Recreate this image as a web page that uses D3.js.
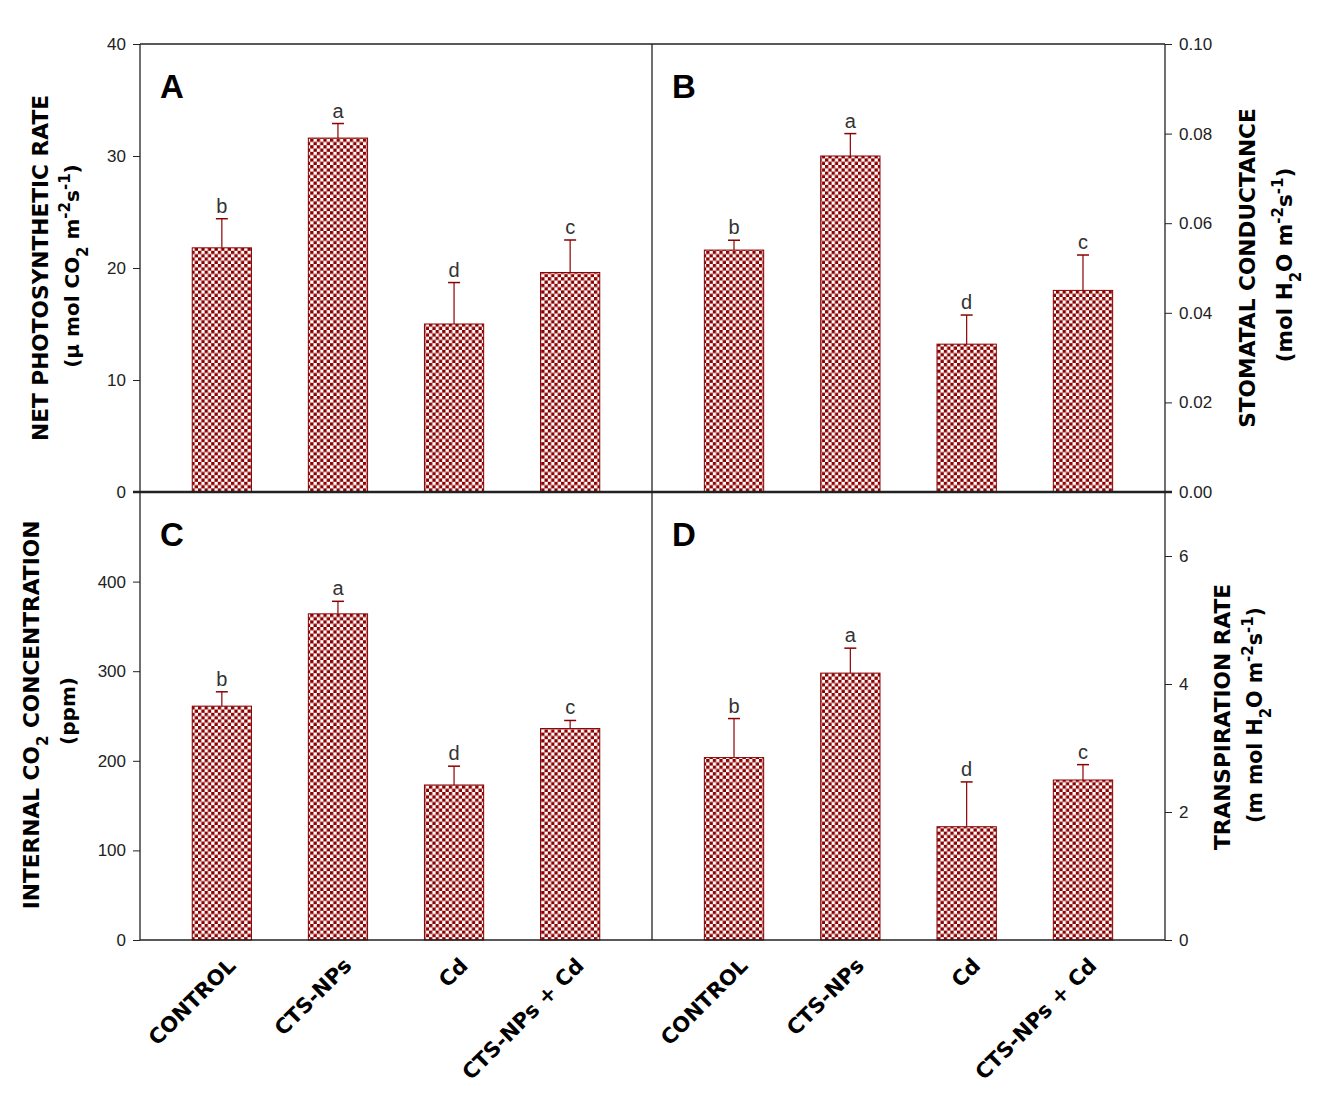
<!DOCTYPE html>
<html>
<head>
<meta charset="utf-8">
<script src="https://cdn.jsdelivr.net/npm/d3@7"></script>
<style>
  body { margin: 0; background: #fff; }
  text { font-family: "Liberation Sans", Arial, sans-serif; }
  .bold { font-family: "DejaVu Sans", sans-serif; font-weight: bold; }
</style>
</head>
<body>
<svg id="chart"></svg>
<script>
// treatments
var groups = ['CONTROL', 'CTS-NPs', 'Cd', 'CTS-NPs + Cd'];

// panel values (mean, error) and letters
var photoMean = [21.8, 31.6, 15.0, 19.6];
var photoErr  = [2.6, 1.3, 3.7, 2.9];
var photoSig  = ['b', 'a', 'd', 'c'];

var condMean = [0.054, 0.075, 0.033, 0.045];
var condErr  = [0.0022, 0.005, 0.0065, 0.0079];
var condSig  = ['b', 'a', 'd', 'c'];

var co2Mean = [261, 364, 173, 236];
var co2Err  = [16, 14, 21, 9];
var co2Sig  = ['b', 'a', 'd', 'c'];

var transMean = [2.85, 4.17, 1.77, 2.5];
var transErr  = [0.61, 0.39, 0.70, 0.24];
var transSig  = ['b', 'a', 'd', 'c'];

var photoTicks = [0, 10, 20, 30, 40];
var condTicks  = [0, 0.02, 0.04, 0.06, 0.08, 0.10];
var co2Ticks   = [0, 100, 200, 300, 400];
var transTicks = [0, 2, 4, 6];

var W = 1322, H = 1105;
var leftX = 140, midX = 652, rightX = 1165;
var topY = 44, midY = 492, bottomY = 940;
var red = '#8b0000';

var svg = d3.select('#chart').attr('width', W).attr('height', H);

// checker pattern
var cell = 3.3;
var pat = svg.append('defs').append('pattern')
    .attr('id', 'check')
    .attr('patternUnits', 'userSpaceOnUse')
    .attr('width', cell * 2).attr('height', cell * 2);
pat.append('rect').attr('width', cell * 2).attr('height', cell * 2).attr('fill', '#fff');
pat.append('rect').attr('width', cell).attr('height', cell).attr('fill', red);
pat.append('rect').attr('x', cell).attr('y', cell).attr('width', cell).attr('height', cell).attr('fill', red);

var panels = [
    { id: 'A', x0: leftX, x1: midX, y0: topY, y1: midY, max: 40, mean: photoMean, err: photoErr, sig: photoSig, ticks: photoTicks, side: 'left', fmt: d3.format('d') },
    { id: 'B', x0: midX, x1: rightX, y0: topY, y1: midY, max: 0.10, mean: condMean, err: condErr, sig: condSig, ticks: condTicks, side: 'right', fmt: d3.format('.2f') },
    { id: 'C', x0: leftX, x1: midX, y0: midY, y1: bottomY, max: 500, mean: co2Mean, err: co2Err, sig: co2Sig, ticks: co2Ticks, side: 'left', fmt: d3.format('d') },
    { id: 'D', x0: midX, x1: rightX, y0: midY, y1: bottomY, max: 7, mean: transMean, err: transErr, sig: transSig, ticks: transTicks, side: 'right', fmt: d3.format('d') }
];

panels.forEach(function (p) {
    var x = d3.scaleBand().domain(groups).range([p.x0, p.x1]).paddingInner(0.49).paddingOuter(0.45);
    var y = d3.scaleLinear().domain([0, p.max]).range([p.y1, p.y0]);
    var g = svg.append('g');

    // error bars + letters
    groups.forEach(function (k, i) {
        var cx = x(k) + x.bandwidth() / 2;
        var yt = y(p.mean[i] + p.err[i]);
        g.append('line').attr('x1', cx).attr('x2', cx)
            .attr('y1', y(p.mean[i])).attr('y2', yt)
            .attr('stroke', red).attr('stroke-width', 1.2);
        g.append('line').attr('x1', cx - 6).attr('x2', cx + 6)
            .attr('y1', yt).attr('y2', yt)
            .attr('stroke', red).attr('stroke-width', 1.5);
        g.append('text').attr('x', cx).attr('y', yt - 6)
            .attr('text-anchor', 'middle').attr('font-size', 20).attr('fill', '#333')
            .text(p.sig[i]);
    });

    // bars
    g.selectAll('rect.bar').data(p.mean).enter().append('rect')
        .attr('class', 'bar')
        .attr('x', function (d, i) { return x(groups[i]); })
        .attr('y', function (d) { return y(d); })
        .attr('width', x.bandwidth())
        .attr('height', function (d) { return y(0) - y(d); })
        .attr('fill', 'url(#check)')
        .attr('stroke', red).attr('stroke-width', 1);

    // axis
    var ax = p.side === 'left' ? d3.axisLeft(y) : d3.axisRight(y);
    ax.tickValues(p.ticks).tickFormat(p.fmt).tickSizeOuter(0).tickSize(7).tickPadding(7);
    var ag = svg.append('g')
        .attr('transform', 'translate(' + (p.side === 'left' ? p.x0 : p.x1) + ',0)')
        .call(ax);
    ag.select('.domain').remove();
    ag.selectAll('text').attr('font-size', 17).attr('fill', '#222');
    ag.selectAll('line').attr('stroke', '#222');

    // panel letter
    svg.append('text').attr('x', p.x0 + 20).attr('y', p.y0 + 54)
        .attr('font-size', 33).attr('font-weight', 'bold').text(p.id);

    // category labels along the bottom
    if (p.y1 === bottomY) {
        groups.forEach(function (k) {
            var cx = x(k) + x.bandwidth() / 2;
            svg.append('text').attr('class', 'bold')
                .attr('transform', 'translate(' + (cx + 15) + ',' + 967 + ') rotate(-45)')
                .attr('text-anchor', 'end').attr('font-size', 21)
                .text(k);
        });
    }
});

// frame lines
var frame = svg.append('g').attr('stroke', '#222');
frame.append('line').attr('x1', leftX).attr('x2', rightX).attr('y1', topY).attr('y2', topY).attr('stroke-width', 1.3);
frame.append('line').attr('x1', leftX - 7).attr('x2', rightX + 7).attr('y1', midY).attr('y2', midY).attr('stroke-width', 2.5);
frame.append('line').attr('x1', leftX).attr('x2', rightX).attr('y1', bottomY).attr('y2', bottomY).attr('stroke-width', 1.3);
frame.append('line').attr('x1', leftX).attr('x2', leftX).attr('y1', topY).attr('y2', bottomY).attr('stroke-width', 1.3);
frame.append('line').attr('x1', midX).attr('x2', midX).attr('y1', topY).attr('y2', bottomY).attr('stroke-width', 1.3);
frame.append('line').attr('x1', rightX).attr('x2', rightX).attr('y1', topY).attr('y2', bottomY).attr('stroke-width', 1.3);

// axis titles (rotated, reading upward)
function yTitle(bx, cy, size, parts) {
    var t = svg.append('text').attr('class', 'bold')
        .attr('transform', 'translate(' + bx + ',' + cy + ') rotate(-90)')
        .attr('text-anchor', 'middle').attr('font-size', size);
    parts.forEach(function (s) {
        var ts = t.append('tspan').text(s[0]);
        if (s[1] === 'sup') ts.attr('baseline-shift', 'super').attr('font-size', 15);
        if (s[1] === 'sub') ts.attr('baseline-shift', 'sub').attr('font-size', 15);
    });
}
yTitle(48, 268, 21.7, [['NET PHOTOSYNTHETIC RATE']]);
yTitle(79, 266, 20, [['(µ mol CO'], ['2', 'sub'], [' m'], ['-2', 'sup'], ['s'], ['-1', 'sup'], [')']]);
yTitle(39, 715, 21.7, [['INTERNAL CO'], ['2', 'sub'], [' CONCENTRATION']]);
yTitle(75, 711, 20, [['(ppm)']]);
yTitle(1255, 268, 21.7, [['STOMATAL CONDUCTANCE']]);
yTitle(1292, 265, 21.5, [['(mol H'], ['2', 'sub'], ['O m'], ['-2', 'sup'], ['s'], ['-1', 'sup'], [')']]);
yTitle(1230, 717, 21.7, [['TRANSPIRATION RATE']]);
yTitle(1262, 715, 20.5, [['(m mol H'], ['2', 'sub'], ['O m'], ['-2', 'sup'], ['s'], ['-1', 'sup'], [')']]);
</script>
</body>
</html>
